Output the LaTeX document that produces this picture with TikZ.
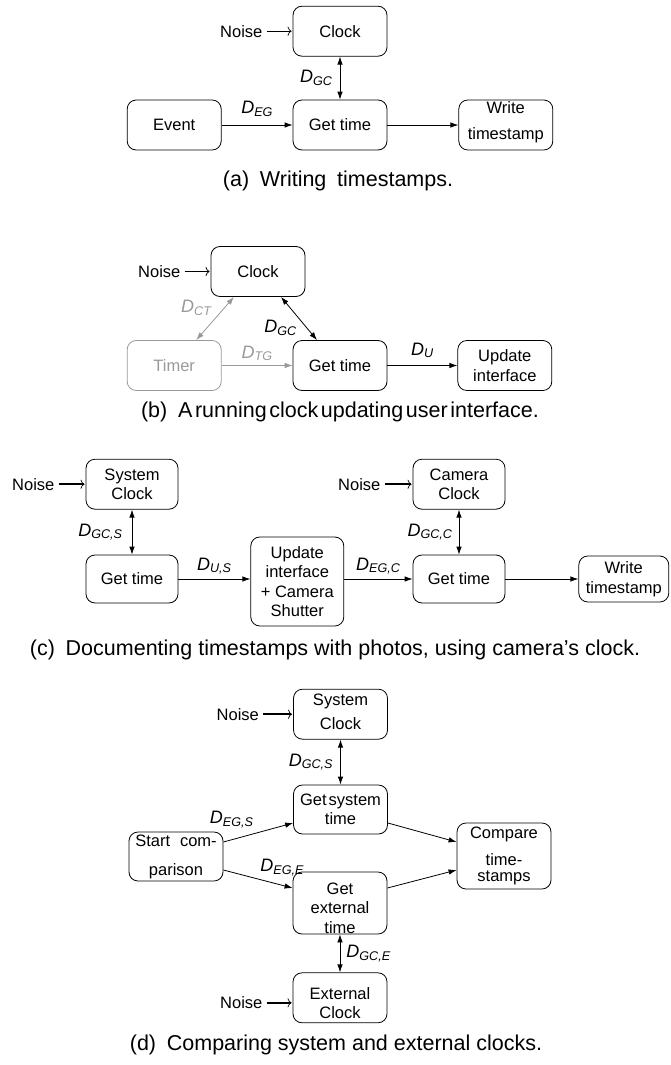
\documentclass[tikz,border=0pt]{standalone}
\usepackage{fontspec}
\setmainfont{Liberation Sans}
\usetikzlibrary{arrows.meta,positioning}

\newcommand{\nodefont}{\fontsize{16.5}{19.5}\selectfont}
\newcommand{\capfont}{\fontsize{21.5}{25}\selectfont}
\newcommand{\delay}[1]{\textit{D}\textsubscript{\textit{#1}}}

\begin{document}
\begin{tikzpicture}[
    x=1pt, y=-1pt,
    >={Latex[length=8pt,width=5.5pt]},
    every node/.style={font=\nodefont},
    box/.style={draw, rounded corners=9pt, line width=0.8pt, align=center, minimum width=94pt, minimum height=50pt, inner sep=1pt},
    faded/.style={draw=black!40, text=black!40},
    link/.style={->, line width=0.8pt},
    both/.style={<->, line width=0.8pt},
    noisy/.style={-{To[length=4pt,width=9pt,line width=0.7pt]}, line width=0.7pt, shorten <=3pt, shorten >=1pt},
    noisier/.style={noisy, line width=1.5pt},
    noiselabel/.style={inner sep=1pt},
    dlabel/.style={font=\fontsize{18}{20}\selectfont, inner sep=1pt},
    caption/.style={font=\capfont}
]
\useasboundingbox (0,0) rectangle (670,1065);

% (a) writing timestamps
\node[box] (getA) at (340,125) {Get time};
\node[box, above=43pt of getA] (clockA) {Clock};
\node[box, left=71pt of getA] (eventA) {Event};
\node[box, right=71pt of getA, text height=33pt, text depth=5pt] (writeA) {Write\\[6.5pt]timestamp};
\node[noiselabel, left=29pt of clockA] (noiseA) {Noise};

\draw[noisy] (noiseA) -- (clockA);
\draw[both] (clockA) -- node[dlabel, left=6pt] {\delay{GC}} (getA);
\draw[link] (eventA) -- node[dlabel, above=7pt] {\delay{EG}} (getA);
\draw[link] (getA) -- (writeA);

\node[caption] (capA) at (338,181) {(a)\enspace Writing\enspace timestamps.};

% (b) running clock
\node[box] (getB) at (340,365.5) {Get time};
\node[box, faded, left=71pt of getB] (timerB) {Timer};
\node[box, right=70pt of getB] (updateB) {Update\\interface};
\node[box] (clockB) at (258,271.5) {Clock};
\node[noiselabel, left=29pt of clockB] (noiseB) {Noise};

\draw[noisy] (noiseB) -- (clockB);
\draw[both, black!40] ([xshift=22pt]timerB.north) -- node[dlabel, text=black!40, above left=2pt] {\delay{CT}} ([xshift=-24pt]clockB.south);
\draw[both] ([xshift=23pt]clockB.south) -- node[dlabel, below left=1pt] {\delay{GC}} ([xshift=-23pt]getB.north);
\draw[link, black!40] (timerB) -- node[dlabel, text=black!40, above=3pt] {\delay{TG}} (getB);
\draw[link] (getB) -- node[dlabel, above=6pt] {\delay{U}} (updateB);

\node[caption] (capB) at (340,412) {(b)\enspace{\spaceskip=2.6pt A running clock updating user interface.}};

% (c) photos with camera clock
\node[box, minimum width=92pt, minimum height=48pt] (getC) at (132,579) {Get time};
\node[box, minimum width=92pt, above=45pt of getC] (sysclkC) {System\\Clock};
\node[box, minimum width=93pt, minimum height=89pt, right=72pt of getC, yshift=-2.5pt] (updC) {Update\\interface\\+ Camera\\Shutter};
\node[box, minimum width=92pt, minimum height=48pt] (getcamC) at (459,579) {Get time};
\node[box, minimum width=92pt, above=45pt of getcamC] (camclkC) {Camera\\Clock};
\node[box, minimum width=90pt, minimum height=46pt, right=73pt of getcamC] (writeC) {Write\\timestamp};
\node[noiselabel, left=30pt of sysclkC] (noiseC) {Noise};
\node[noiselabel, left=31pt of camclkC] (noiseCC) {Noise};

\draw[noisier] (noiseC) -- (sysclkC);
\draw[noisier] (noiseCC) -- (camclkC);
\draw[both] (sysclkC) -- node[dlabel, left=8pt] {\delay{GC,S}} (getC);
\draw[link] (getC) -- node[dlabel, above=3pt] {\delay{U,S}} (getC -| updC.west);
\draw[link] (updC.east |- getcamC) -- node[dlabel, above=3pt] {\delay{EG,C}} (getcamC);
\draw[both] (camclkC) -- node[dlabel, left=5pt] {\delay{GC,C}} (getcamC);
\draw[link] (getcamC) -- (writeC);

\node[caption] (capC) at (335,650) {(c)\enspace Documenting timestamps with photos, using camera’s clock.};

% (d) system vs external clock
\node[box, minimum height=49pt] (getsysD) at (340.5,809.5) {Get\hspace{2pt}system\\time};
\node[box, above=45pt of getsysD, text height=37pt, text depth=6pt] (sysclkD) {System\\[4.5pt]Clock};
\node[box, minimum height=49pt] (startD) at (176,856.5) {Start\hspace{0.6em}com-\\[9.5pt]parison};
\node[box, minimum height=62pt, text height=60pt, text depth=0pt] (getextD) at (340,903) {Get\\external\\time};
\node[box, below=38pt of getextD, text height=44pt, text depth=2pt] (extclkD) {External\\Clock};
\node[box, minimum height=66pt] (compareD) at (504,856) {Compare\\[7.5pt]time-\\[-3.5pt]stamps};
\node[noiselabel, left=33pt of sysclkD] (noiseD) {Noise};
\node[noiselabel, left=29pt of extclkD, yshift=-5pt] (noiseDD) {Noise};

\draw[noisier] (noiseD) -- (sysclkD);
\draw[noisier] (noiseDD) -- (noiseDD -| extclkD.west);
\draw[both] (sysclkD) -- node[dlabel, left=6pt] {\delay{GC,S}} (getsysD);
\draw[both] (getextD) -- node[dlabel, right=5pt] {\delay{GC,E}} (extclkD);
\draw[link] ([yshift=14.5pt]startD.east) -- node[dlabel, pos=0.12, above=10pt] {\delay{EG,S}} ([yshift=-13.5pt]getsysD.west);
\draw[link] ([yshift=-13.5pt]startD.east) -- node[dlabel, pos=0.85, above=8pt] {\delay{EG,E}} ([yshift=15pt]getextD.west);
\draw[link] ([yshift=-13.5pt]getsysD.east) -- ([yshift=14pt]compareD.west);
\draw[link] ([yshift=15pt]getextD.east) -- ([yshift=-14pt]compareD.west);

\node[caption] (capD) at (336,1045) {(d)\enspace Comparing system and external clocks.};
\end{tikzpicture}
\end{document}
